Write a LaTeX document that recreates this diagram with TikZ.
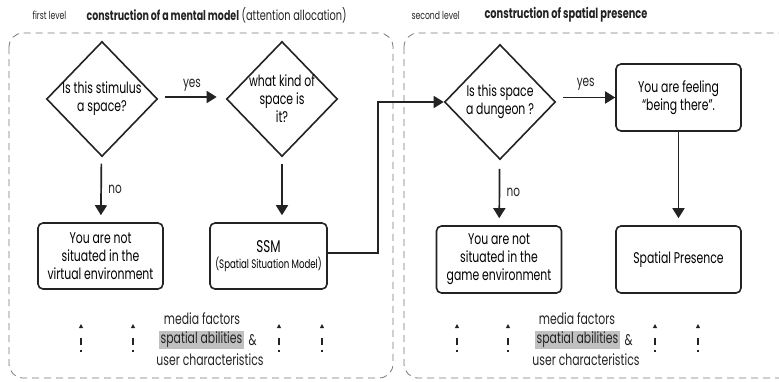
\documentclass[tikz,border=0pt]{standalone}
\usepackage{fontspec}
\setmainfont{Poppins}[FakeStretch=0.7]
\usetikzlibrary{shapes.geometric,arrows.meta,positioning}
\definecolor{hlgray}{RGB}{192,192,192}
\definecolor{framegray}{RGB}{120,120,120}
\definecolor{inkgray}{RGB}{35,35,35}

\tikzset{
  question/.style={draw=inkgray, line width=1.6pt, diamond, aspect=1, inner sep=-4pt,
    minimum width=111pt, minimum height=115pt, align=center, font=\fontsize{15.5}{18}\selectfont},
  answer/.style={draw=inkgray, line width=1.6pt, rounded corners=5pt, minimum width=125pt,
    minimum height=66pt, align=center, font=\fontsize{15.5}{18}\selectfont},
  flow/.style={draw=inkgray, line width=1.7pt, -{Triangle[length=10pt,width=12pt]}},
  factor/.style={draw=inkgray, line width=1.3pt, dash pattern=on 2pt off 5pt on 7pt off 30pt,
    -{Triangle[length=4pt,width=4pt]}},
  level/.style={draw=framegray, line width=0.8pt, dash pattern=on 7pt off 5pt, rounded corners=14pt},
  tag/.style={font=\fontsize{15}{17}\selectfont, text=inkgray},
  small/.style={font=\fontsize{15.5}{18}\selectfont, text=inkgray}
}

\begin{document}
\begin{tikzpicture}[x=1pt,y=-1pt]
  \useasboundingbox (0,0) rectangle (779,381);
  % Levels
  \draw[level] (9,33) rectangle (393,378);
  \draw[level] (404,33) rectangle (800,378);
  \node[anchor=west, font=\fontsize{11}{12}\selectfont, text=inkgray] (lvlone) at (29,15) {first level};
  \node[anchor=west, font=\fontsize{14}{15}\selectfont, text=inkgray] (titleone) at (83,15)
    {\textbf{\fontsize{13.5}{15}\selectfont construction of a mental model} (attention allocation)};
  \node[anchor=west, font=\fontsize{11}{12}\selectfont, text=inkgray] (lvltwo) at (408,15) {second level};
  \node[anchor=west, font=\fontsize{14}{15}\selectfont, text=inkgray] (titletwo) at (481,15)
    {\textbf{construction of spatial presence}};

  % First level
  \node[question] (stim) at (102,99) {Is this stimulus\\a space?};
  \node[question] (kind) at (282,99) {what kind of\\space is\\it?};
  \node[answer] (notvirt) at (100.5,256) {You are not\\situated in the\\virtual environment};
  \node[answer, minimum width=117pt] (ssm) at (268.5,256)
    {{\fontsize{17}{18}\selectfont SSM}\\[-2pt]{\fontsize{12.3}{14}\selectfont(Spatial Situation Model)}};

  % Second level
  \node[question] (dungeon) at (500,102) {Is this space\\a dungeon ?};
  \node[answer, minimum height=67pt] (feeling) at (678.5,97.5) {You are feeling\\``being there''.};
  \node[answer, minimum height=67pt] (notgame) at (499,259.5) {You are not\\situated in the\\game environment};
  \node[answer, minimum height=67pt] (presence) at (678.5,259.5) {Spatial Presence};

  % Connectors
  \draw[flow, shorten <=7pt, shorten >=9pt] (stim.east |- 0,97) -- (kind.west |- 0,97)
    node[midway, above=1pt, tag] (yesone) {yes};
  \draw[flow, shorten <=7pt, shorten >=7pt] (stim) -- (notvirt)
    node[midway, right=3pt, tag] (noone) {no};
  \draw[flow, shorten <=7pt, shorten >=7pt] (kind.south) -- (kind.south |- ssm.north);
  \draw[flow] (ssm.east |- 0,253) -- (378,253) |- (dungeon.west);
  \draw[flow, shorten <=7pt] (dungeon.east |- feeling.west) -- (feeling.west)
    node[midway, above=3pt, tag] (yestwo) {yes};
  \draw[flow, shorten <=9pt, shorten >=7pt] (dungeon) -- (notgame)
    node[midway, right=3pt, tag] (notwo) {no};
  \draw[flow, shorten >=7pt] (feeling) -- (presence);

  % Factors
  \node[small] (mediaone) at (202,319) {media factors};
  \node[small, fill=hlgray, inner sep=1.5pt] (abilone) at (201.5,340) {spatial abilities};
  \node[small, right=1pt of abilone] (andone) {\&};
  \node[small] (userone) at (210,360) {user characteristics};
  \node[small] (mediatwo) at (577,319) {media factors};
  \node[small, fill=hlgray, inner sep=1.5pt] (abiltwo) at (577.5,340) {spatial abilities};
  \node[small, right=1pt of abiltwo] (andtwo) {\&};
  \node[small] (usertwo) at (586,360) {user characteristics};
  \foreach \x in {81,133,279,322,457,508,655,698}
    \draw[factor] (\x,352) -- (\x,324);
\end{tikzpicture}
\end{document}
